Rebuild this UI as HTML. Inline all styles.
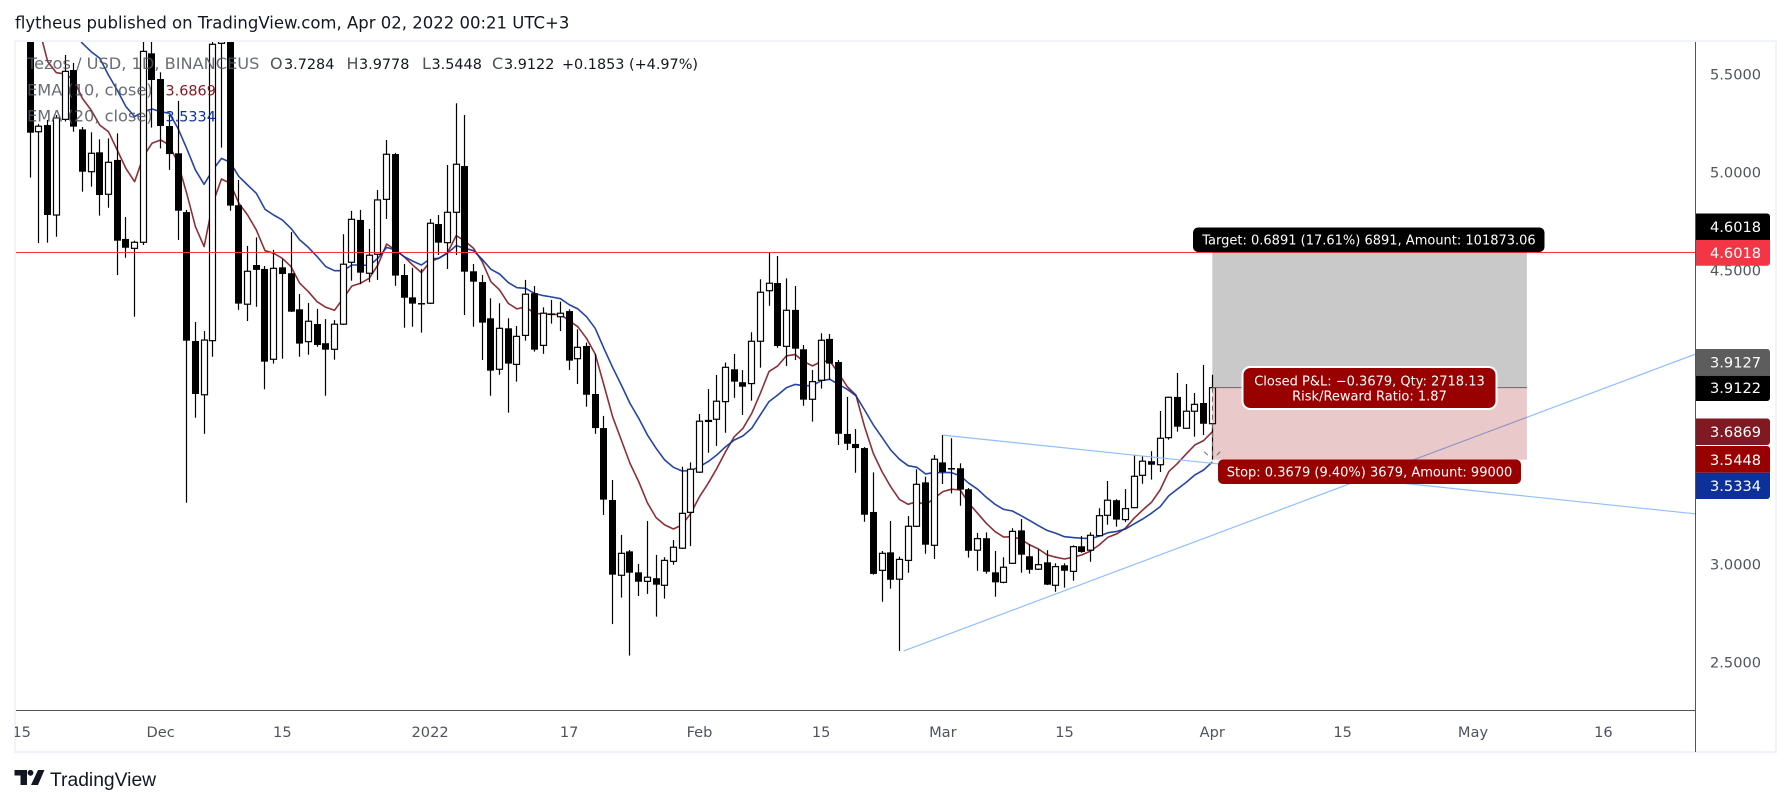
<!DOCTYPE html>
<html><head><meta charset="utf-8"><title>Tezos / USD chart</title>
<style>
html,body{margin:0;padding:0;background:#fff;width:1791px;height:805px;overflow:hidden}
svg{display:block}
text{font-family:"DejaVu Sans","Liberation Sans",sans-serif}
</style></head><body>
<svg id="page" xmlns="http://www.w3.org/2000/svg" width="1791" height="805" viewBox="0 0 1791 805">
<defs><clipPath id="plotClip"><rect x="16" y="42" width="1679" height="668"/></clipPath>
<clipPath id="axisClip"><rect x="15" y="711" width="1680" height="40"/></clipPath></defs>
<rect x="0" y="0" width="1791" height="805" fill="#fff"/>
<text x="15" y="28.5" font-size="16.5" fill="#131722">flytheus published on TradingView.com, Apr 02, 2022 00:21 UTC+3</text>
<rect x="15" y="41" width="1761" height="711" fill="none" stroke="#f0f3fa" stroke-width="2"/>
<g id="plot" clip-path="url(#plotClip)"></g>
<line x1="16" y1="710.5" x2="1696" y2="710.5" stroke="#50535e" stroke-width="1"/>
<line x1="1695.5" y1="42" x2="1695.5" y2="752" stroke="#50535e" stroke-width="1"/>
<g id="yTicks"></g>
<g id="xTicks" clip-path="url(#axisClip)"></g>

<g font-size="16.2">
<text x="27" y="69" fill="#50535e" fill-opacity=".85">Tezos / USD, 1D, BINANCEUS</text>
<text y="69" fill="#131722" font-size="14.4"><tspan x="270" fill="#50535e" font-size="16">O</tspan><tspan x="284">3.7284</tspan><tspan x="346.500" fill="#50535e" font-size="16">H</tspan><tspan x="359">3.9778</tspan><tspan x="422" fill="#50535e" font-size="16">L</tspan><tspan x="431.500">3.5448</tspan><tspan x="492" fill="#50535e" font-size="16">C</tspan><tspan x="504">3.9122</tspan><tspan x="562">+0.1853 (+4.97%)</tspan></text>
<text x="27" y="95.500" fill="#50535e" fill-opacity=".85">EMA (10, close)</text>
<text x="165.500" y="95.500" fill="#801922" font-size="14.4">3.6869</text>
<text x="27" y="121.500" fill="#50535e" fill-opacity=".85">EMA (20, close)</text>
<text x="165.500" y="121.500" fill="#0d3199" font-size="14.4">3.5334</text>
</g>

<g>
<rect x="1193" y="227.5" width="351.5" height="24.5" rx="5" fill="#000"/>
<text x="1369" y="244.5" font-size="13" fill="#fff" text-anchor="middle">Target: 0.6891 (17.61%) 6891, Amount: 101873.06</text></g>
<g>
<rect x="1242.5" y="367" width="254" height="42" rx="8" fill="#990000" stroke="#fff" stroke-width="2"/>
<text x="1369.5" y="385.5" font-size="13" fill="#fff" text-anchor="middle">Closed P&amp;L: −0.3679, Qty: 2718.13</text>
<text x="1369.5" y="400.5" font-size="13" fill="#fff" text-anchor="middle">Risk/Reward Ratio: 1.87</text></g>
<g>
<rect x="1218" y="459.5" width="303" height="24.5" rx="5" fill="#990000"/>
<text x="1369.5" y="476.5" font-size="13" fill="#fff" text-anchor="middle">Stop: 0.3679 (9.40%) 3679, Amount: 99000</text></g>

<g font-size="14.6" fill="#fff">
<g><path d="M1696 213.5h71a3 3 0 0 1 3 3v23.500h-74z" fill="#000"/><text x="1710" y="232">4.6018</text></g>
<g><path d="M1696 240h74v22.700a3 3 0 0 1-3 3h-71z" fill="#f23645"/><text x="1710" y="258">4.6018</text></g>
<g><path d="M1696 349h71a3 3 0 0 1 3 3v23.700h-74z" fill="#5d5d5d"/><text x="1710" y="367.500">3.9127</text></g>
<g><path d="M1696 375.700h74v22.300a3 3 0 0 1-3 3h-71z" fill="#000"/><text x="1710" y="393">3.9122</text></g>
<g><path d="M1696 418.500h71a3 3 0 0 1 3 3v20.500a3 3 0 0 1-3 3h-71z" fill="#801922"/><text x="1710" y="437">3.6869</text></g>
<g><path d="M1696 446h71a3 3 0 0 1 3 3v23.700h-74z" fill="#990000"/><text x="1710" y="465">3.5448</text></g>
<g><path d="M1696 472.700h74v23.300a3 3 0 0 1-3 3h-71z" fill="#0d3199"/><text x="1710" y="491">3.5334</text></g>
</g>

<g>
<path d="M14.500 770h12.500v15h-6.500v-9.500h-6zM38 770h6.500l-6.500 15h-7z" fill="#131722"/>
<circle cx="30.500" cy="772.800" r="2.900" fill="#131722"/>
<text x="50" y="786" font-size="19.300" fill="#131722" style='font-family:"Liberation Sans",sans-serif'>TradingView</text>
</g>
</svg>
<script>
var open_ = [5.75,5.218,5.252,4.793,5.281,5.533,5.230,5.014,5.113,4.899,
5.074,4.671,4.623,4.654,5.618,5.487,5.247,5.108,4.808,4.150,
3.876,4.152,5.669,5.85,4.843,4.338,4.538,4.518,4.057,4.526,
4.496,4.312,4.147,4.237,4.139,4.108,4.236,4.552,4.768,4.496,
4.593,4.873,5.104,4.487,4.373,4.344,4.343,4.747,4.652,4.807,
5.043,4.506,4.451,4.266,4.006,4.215,4.031,4.179,4.394,4.128,
4.291,4.274,4.303,4.060,4.125,3.880,3.706,3.339,2.955,3.077,
2.970,2.924,2.940,2.904,3.026,3.093,3.276,3.481,3.740,3.751,
3.841,4.006,3.940,3.933,4.149,4.407,4.446,4.123,4.309,4.108,
3.853,3.950,4.161,4.043,3.676,3.625,3.604,3.278,2.980,3.072,
2.935,3.031,3.205,3.429,3.108,3.531,3.502,3.501,3.394,3.083,
3.144,2.970,2.919,3.016,3.184,3.052,2.986,3.021,2.904,3.006,
2.975,3.103,3.083,3.157,3.261,3.338,3.239,3.300,3.465,3.537,
3.519,3.657,3.865,3.705,3.792,3.834,3.7284];
var close_ = [5.213,5.246,4.793,5.288,5.526,5.244,5.014,5.108,4.895,5.062,
4.662,4.626,4.654,5.628,5.482,5.247,5.104,4.815,4.152,3.880,
4.155,5.664,5.72,4.841,4.341,4.506,4.513,4.045,4.521,4.492,
4.300,4.137,4.251,4.130,4.106,4.236,4.542,4.771,4.499,4.588,
4.870,5.103,4.484,4.371,4.341,4.340,4.751,4.652,4.807,5.052,
4.504,4.453,4.244,3.999,4.215,4.035,4.174,4.389,4.106,4.292,
4.286,4.292,4.050,4.118,3.876,3.706,3.341,2.958,3.067,2.968,
2.922,2.945,2.907,3.031,3.098,3.271,3.496,3.741,3.745,3.843,
4.016,3.943,3.917,4.149,4.399,4.445,4.125,4.307,4.111,3.851,
3.943,4.154,4.035,3.677,3.626,3.604,3.264,2.962,3.067,2.932,
3.036,3.205,3.419,3.111,3.547,3.482,3.498,3.392,3.080,3.142,
2.973,2.919,2.996,3.179,3.060,2.983,3.009,2.907,2.999,2.978,
3.101,3.074,3.159,3.259,3.338,3.239,3.295,3.460,3.537,3.519,
3.654,3.863,3.713,3.792,3.827,3.728,3.9122];
var high_ = [5.85,5.257,5.278,5.303,5.610,5.569,5.242,5.215,5.179,5.184,
5.210,4.783,4.662,5.737,5.712,5.521,5.303,5.375,4.819,4.247,
4.201,5.737,5.80,5.9,4.972,4.635,4.679,4.533,4.615,4.567,
4.706,4.390,4.344,4.314,4.262,4.257,4.695,4.814,4.819,4.722,
4.921,5.176,5.110,4.543,4.524,4.518,4.773,4.793,5.048,5.363,
5.303,4.543,4.487,4.368,4.343,4.266,4.227,4.462,4.431,4.322,
4.360,4.351,4.312,4.210,4.142,4.084,3.768,3.441,3.161,3.084,
3.013,3.232,3.059,3.047,3.135,3.509,3.531,3.778,3.905,3.977,
4.040,4.084,4.002,4.195,4.465,4.601,4.584,4.470,4.431,4.130,
4.002,4.190,4.186,4.053,3.865,3.701,3.609,3.480,3.079,3.232,
3.050,3.257,3.496,3.458,3.569,3.671,3.654,3.526,3.400,3.171,
3.174,3.079,3.047,3.195,3.242,3.113,3.088,3.083,3.016,3.016,
3.108,3.155,3.174,3.297,3.436,3.343,3.395,3.569,3.564,3.588,
3.793,3.866,3.987,3.931,3.885,4.028,3.9778];
var low_ = [4.984,4.650,4.652,4.682,5.27,5.218,4.912,4.938,4.790,4.830,
4.487,4.575,4.274,4.640,5.239,5.133,5.023,4.666,3.325,3.759,
3.677,4.070,5.137,4.815,4.309,4.252,4.325,3.904,4.035,4.060,
4.298,4.070,4.080,4.121,3.871,4.055,4.232,4.458,4.440,4.450,
4.462,4.773,4.432,4.218,4.223,4.193,4.339,4.589,4.518,4.589,
4.283,4.223,4.053,3.871,3.978,3.785,3.943,4.152,4.096,4.085,
4.239,4.201,4.002,3.931,3.815,3.677,3.263,2.706,2.841,2.545,
2.849,2.860,2.744,2.836,3.009,3.089,3.104,3.477,3.580,3.615,
3.682,3.860,3.773,3.846,4.014,4.330,4.116,4.023,4.053,3.820,
3.739,3.907,3.951,3.620,3.594,3.478,3.228,2.958,2.820,2.887,
2.569,2.968,3.201,3.065,3.038,3.421,3.373,3.310,3.045,2.978,
2.963,2.846,2.914,3.013,2.968,2.963,2.982,2.905,2.871,2.892,
2.927,3.070,3.024,3.155,3.213,3.203,3.227,3.298,3.422,3.443,
3.482,3.647,3.688,3.704,3.662,3.671,3.5448];
var ema10 = [5.85,5.746,5.576,5.519,5.513,5.482,5.388,5.329,5.252,5.218,
5.125,5.031,4.963,5.091,5.159,5.176,5.150,5.057,4.904,4.734,
4.632,4.853,4.977,4.955,4.853,4.793,4.717,4.611,4.598,4.572,
4.530,4.445,4.402,4.351,4.322,4.307,4.368,4.431,4.445,4.470,
4.538,4.645,4.615,4.581,4.538,4.499,4.555,4.572,4.601,4.688,
4.660,4.623,4.555,4.453,4.411,4.342,4.314,4.325,4.291,4.288,
4.286,4.286,4.254,4.223,4.164,4.084,3.926,3.764,3.645,3.526,
3.433,3.325,3.249,3.212,3.191,3.212,3.271,3.356,3.424,3.501,
3.586,3.662,3.705,3.781,3.883,3.994,4.023,4.074,4.082,4.045,
4.023,4.045,4.048,3.985,3.917,3.875,3.713,3.577,3.484,3.407,
3.342,3.317,3.331,3.314,3.348,3.382,3.394,3.390,3.322,3.271,
3.220,3.178,3.150,3.152,3.138,3.110,3.089,3.059,3.047,3.038,
3.047,3.059,3.079,3.110,3.149,3.166,3.195,3.246,3.288,3.327,
3.390,3.484,3.526,3.574,3.620,3.642,3.6869];
var ema20 = [5.95,5.92,5.89,5.85,5.788,5.729,5.669,5.627,5.593,5.507,
5.431,5.346,5.295,5.320,5.334,5.320,5.312,5.235,5.133,5.023,
4.950,5.023,5.082,5.062,4.989,4.946,4.904,4.822,4.793,4.768,
4.725,4.666,4.628,4.581,4.530,4.509,4.509,4.538,4.538,4.535,
4.572,4.628,4.615,4.581,4.558,4.538,4.569,4.572,4.598,4.637,
4.623,4.611,4.567,4.516,4.492,4.448,4.422,4.419,4.393,4.382,
4.375,4.366,4.336,4.314,4.274,4.215,4.113,4.016,3.926,3.832,
3.756,3.671,3.603,3.543,3.506,3.487,3.489,3.509,3.535,3.569,
3.611,3.645,3.666,3.705,3.773,3.841,3.875,3.912,3.929,3.922,
3.922,3.948,3.955,3.929,3.904,3.871,3.798,3.722,3.659,3.594,
3.547,3.514,3.506,3.472,3.479,3.479,3.479,3.462,3.424,3.394,
3.353,3.317,3.291,3.283,3.259,3.234,3.208,3.184,3.169,3.152,
3.147,3.144,3.142,3.155,3.172,3.179,3.191,3.217,3.242,3.271,
3.305,3.361,3.395,3.429,3.467,3.492,3.5334];
var priceTicks = [5.5,5.0,4.5,3.0,2.5];
var timeTickLabels = ["15","Dec","15","2022","17","Feb","15","Mar","15","Apr","15","May","16"];
var timeTickBars = [-1,15,29,46,62,77,91,105,119,136,151,166,181];
var horizontalLevel = 4.6018;
var positionEntry = 3.9122;
var positionTarget = 4.6018;
var positionStop = 3.5448;
var positionStartBar = 136;
var positionEndBar = 172.2;
var channelUpper = [[105,3.670],[192,3.2665]];
var channelLower = [[100.5,2.569],[192,4.090]];

function xOf(bar){ return 30.3 + 8.691 * bar; }
function yOf(price){ return 252.5 + (4.6018 - price) * 196; }
var NS = 'http://www.w3.org/2000/svg';
function mk(tag, parent){ var e = document.createElementNS(NS, tag); parent.appendChild(e); return e; }
var plot = document.getElementById('plot');

function drawEma(values, color, name){
  var d = '';
  for (var i = 0; i < values.length; i++) d += (i ? 'L' : 'M') + xOf(i).toFixed(1) + ' ' + yOf(values[i]).toFixed(1);
  var p = mk('path', plot);
  
  
  p.setAttribute('d', d);
  p.setAttribute('fill', 'none');
  p.setAttribute('stroke', color);
  p.setAttribute('stroke-width', '1.6');
  p.setAttribute('stroke-opacity', '.9');
  p.setAttribute('stroke-linejoin', 'round');
}
drawEma(ema10, '#801922', 'ema-10-line');
drawEma(ema20, '#0d3199', 'ema-20-line');

function drawCandles(){
  for (var i = 0; i < open_.length; i++) {
    var cx = Math.floor(xOf(i)) + 0.5;
    var up = close_[i] >= open_[i];
    var g = mk('g', plot);
    
    
    var w = mk('rect', g);
    
    
    w.setAttribute('x', cx - 0.6);
    w.setAttribute('width', 1.2);
    w.setAttribute('y', yOf(high_[i]));
    w.setAttribute('height', Math.max(0.5, yOf(low_[i]) - yOf(high_[i])));
    w.setAttribute('fill', '#000');
    var bodyTop = yOf(Math.max(open_[i], close_[i]));
    var bodyBot = yOf(Math.min(open_[i], close_[i]));
    var b = mk('rect', g);
    
    
    b.setAttribute('y', bodyTop);
    if (up) {
      b.setAttribute('x', cx - 3);
      b.setAttribute('width', 6);
      b.setAttribute('height', Math.max(1, bodyBot - bodyTop));
      b.setAttribute('fill', '#fff');
      b.setAttribute('stroke', '#000');
      b.setAttribute('stroke-width', '1.2');
    } else {
      b.setAttribute('x', cx - 3.5);
      b.setAttribute('width', 7);
      b.setAttribute('height', Math.max(1.5, bodyBot - bodyTop));
      b.setAttribute('fill', '#000');
    }
  }
}
drawCandles();

function drawTrend(pts, name){
  var l = mk('line', plot);
  
  
  l.setAttribute('x1', xOf(pts[0][0]));
  l.setAttribute('y1', yOf(pts[0][1]));
  l.setAttribute('x2', xOf(pts[1][0]));
  l.setAttribute('y2', yOf(pts[1][1]));
  l.setAttribute('stroke', '#90bff9');
  l.setAttribute('stroke-width', '1.2');
}
drawTrend(channelUpper, 'trendline-upper');
drawTrend(channelLower, 'trendline-lower');

var hl = mk('line', plot);


hl.setAttribute('x1', 16);
hl.setAttribute('x2', 1695);
hl.setAttribute('y1', yOf(horizontalLevel));
hl.setAttribute('y2', yOf(horizontalLevel));
hl.setAttribute('stroke', '#f23645');
hl.setAttribute('stroke-width', '1');

var px0 = xOf(positionStartBar), px1 = xOf(positionEndBar);
var tz = mk('rect', plot);


tz.setAttribute('x', px0);
tz.setAttribute('width', px1 - px0);
tz.setAttribute('y', yOf(positionTarget));
tz.setAttribute('height', yOf(positionEntry) - yOf(positionTarget));
tz.setAttribute('fill', 'rgba(0,0,0,.21)');
var sz = mk('rect', plot);


sz.setAttribute('x', px0);
sz.setAttribute('width', px1 - px0);
sz.setAttribute('y', yOf(positionEntry));
sz.setAttribute('height', yOf(positionStop) - yOf(positionEntry));
sz.setAttribute('fill', 'rgba(153,0,0,.21)');
var el = mk('line', plot);


el.setAttribute('x1', px0);
el.setAttribute('x2', px1);
el.setAttribute('y1', yOf(positionEntry));
el.setAttribute('y2', yOf(positionEntry));
el.setAttribute('stroke', '#666');
el.setAttribute('stroke-width', '1');
var pl = mk('path', plot);


pl.setAttribute('d', 'M' + (Math.floor(px0) + .5) + ' ' + yOf(positionEntry) + 'V' + yOf(positionStop) +
  'M' + (px0 - 8) + ' ' + (yOf(positionStop) - 8) + 'l3.500 3.500M' + (px0 + 8) + ' ' + (yOf(positionStop) - 8) + 'l-3.500 3.500');
pl.setAttribute('fill', 'none');
pl.setAttribute('stroke', '#666');
pl.setAttribute('stroke-width', '1');
pl.setAttribute('stroke-dasharray', '5 4');

var yg = document.getElementById('yTicks');
for (var k = 0; k < priceTicks.length; k++) {
  var t = mk('text', yg);
  
  
  t.setAttribute('x', 1710);
  t.setAttribute('y', yOf(priceTicks[k]) + 3);
  t.setAttribute('font-size', '14.6');
  t.setAttribute('fill', '#50535e');
  t.textContent = priceTicks[k].toFixed(4);
}
var xg = document.getElementById('xTicks');
for (var m = 0; m < timeTickLabels.length; m++) {
  var tt = mk('text', xg);
  
  
  tt.setAttribute('x', xOf(timeTickBars[m]));
  tt.setAttribute('y', 737);
  tt.setAttribute('text-anchor', 'middle');
  tt.setAttribute('font-size', '14.6');
  tt.setAttribute('fill', '#50535e');
  tt.textContent = timeTickLabels[m];
}
</script>
</body></html>
